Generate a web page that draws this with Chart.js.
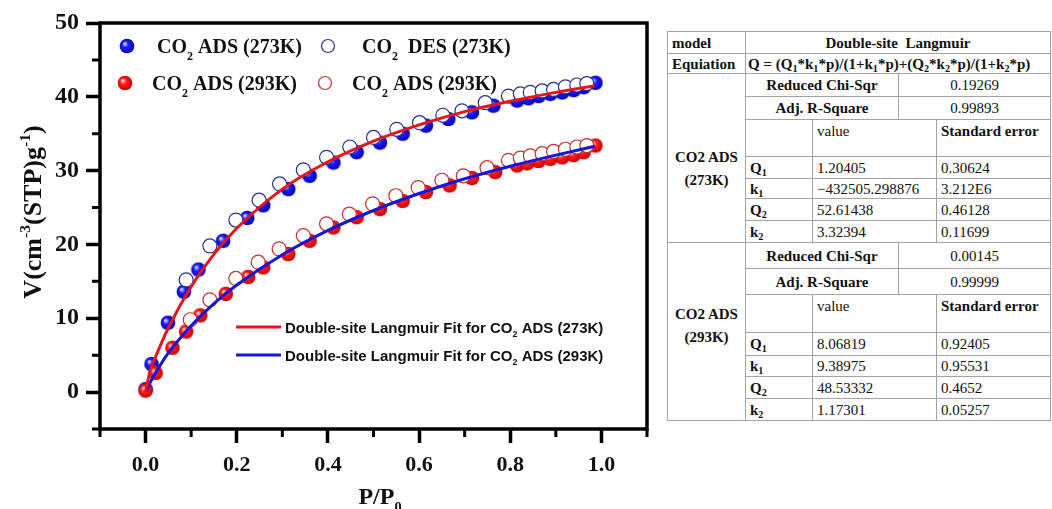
<!DOCTYPE html>
<html lang="en">
<head>
<meta charset="UTF-8" />
<title>CO2 isotherms with Double-site Langmuir fit</title>
<script src="https://cdn.jsdelivr.net/npm/chart.js"></script>
<style>
  html, body { margin: 0; padding: 0; background: #fff; }
  body { width: 1052px; height: 509px; position: relative; overflow: hidden; }
  .plot { position: absolute; left: 0; top: 0; width: 660px; height: 509px; }

  table.fit {
    position: absolute; left: 667px; top: 31px; width: 383px;
    border-collapse: collapse; table-layout: fixed;
    font-family: "Liberation Serif", "Times New Roman", serif; font-size: 15px; color: #111;
  }
  .fit td {
    border: 1px solid #a3a3a3; padding: 0 0 0 4px; line-height: 16px;
    vertical-align: middle; white-space: nowrap; overflow: hidden;
  }
  .fit .c { text-align: center; padding-left: 0; }
  .fit .b { font-weight: bold; }
  .fit .t { vertical-align: top; padding-top: 3px; }
  .fit .eq { padding-left: 2px; }
  .fit .grp { vertical-align: top; text-align: center; padding-left: 0; line-height: 23px; font-weight: bold; }
  .fit sub { font-size: 68%; line-height: 0; vertical-align: -0.3em; }
</style>
</head>
<body>

<div class="plot"><canvas id="iso"></canvas></div>

<table class="fit">
  <colgroup>
    <col style="width:78px"><col style="width:67px"><col style="width:86px"><col style="width:38px"><col style="width:114px">
  </colgroup>
  <tr style="height:22px"><td class="b">model</td><td colspan="4" class="b c">Double-site&nbsp; Langmuir</td></tr>
  <tr style="height:20px"><td class="b">Equiation</td><td colspan="4" class="b eq">Q = (Q<sub>1</sub>*k<sub>1</sub>*p)/(1+k<sub>1</sub>*p)+(Q<sub>2</sub>*k<sub>2</sub>*p)/(1+k<sub>2</sub>*p)</td></tr>

  <tr style="height:23px"><td rowspan="7" class="grp" style="padding-top:72px">CO2 ADS<br>(273K)</td><td colspan="2" class="b c">Reduced Chi-Sqr</td><td colspan="2" class="c">0.19269</td></tr>
  <tr style="height:23px"><td colspan="2" class="b c">Adj. R-Square</td><td colspan="2" class="c">0.99893</td></tr>
  <tr style="height:37px"><td></td><td colspan="2" class="t">value</td><td class="b t">Standard error</td></tr>
  <tr style="height:22px"><td class="b">Q<sub>1</sub></td><td colspan="2">1.20405</td><td>0.30624</td></tr>
  <tr style="height:20px"><td class="b">k<sub>1</sub></td><td colspan="2">&minus;432505.298876</td><td>3.212E6</td></tr>
  <tr style="height:22px"><td class="b">Q<sub>2</sub></td><td colspan="2">52.61438</td><td>0.46128</td></tr>
  <tr style="height:22px"><td class="b">k<sub>2</sub></td><td colspan="2">3.32394</td><td>0.11699</td></tr>

  <tr style="height:26px"><td rowspan="7" class="grp" style="padding-top:60px">CO2 ADS<br>(293K)</td><td colspan="2" class="b c">Reduced Chi-Sqr</td><td colspan="2" class="c">0.00145</td></tr>
  <tr style="height:26px"><td colspan="2" class="b c">Adj. R-Square</td><td colspan="2" class="c">0.99999</td></tr>
  <tr style="height:38px"><td></td><td colspan="2" class="t">value</td><td class="b t">Standard error</td></tr>
  <tr style="height:23px"><td class="b">Q<sub>1</sub></td><td colspan="2">8.06819</td><td>0.92405</td></tr>
  <tr style="height:21px"><td class="b">k<sub>1</sub></td><td colspan="2">9.38975</td><td>0.95531</td></tr>
  <tr style="height:22px"><td class="b">Q<sub>2</sub></td><td colspan="2">48.53332</td><td>0.4652</td></tr>
  <tr style="height:22px"><td class="b">k<sub>2</sub></td><td colspan="2">1.17301</td><td>0.05257</td></tr>
</table>

<script>
  // CO2 uptake, V in cm3(STP)/g against relative pressure P/P0
  const ads273P = [0.000, 0.013, 0.049, 0.084, 0.116, 0.170, 0.223, 0.258, 0.313, 0.360, 0.412, 0.463, 0.514,
                   0.564, 0.615, 0.664, 0.716, 0.763, 0.815, 0.840, 0.862, 0.888, 0.914, 0.939, 0.961, 0.987];
  const ads273V = [0.4, 3.8, 9.4, 13.6, 16.6, 20.5, 23.6, 25.3, 27.5, 29.3, 31.1, 32.5, 33.8,
                   35.0, 36.1, 37.0, 37.9, 38.8, 39.5, 39.8, 40.1, 40.4, 40.6, 40.9, 41.3, 41.9];

  const des273P = [0.089, 0.141, 0.198, 0.249, 0.294, 0.346, 0.397, 0.448, 0.500, 0.551, 0.601,
                   0.652, 0.694, 0.745, 0.796, 0.822, 0.844, 0.870, 0.895, 0.921, 0.946, 0.968];
  const des273V = [15.2, 19.8, 23.3, 26.0, 28.2, 30.1, 31.8, 33.2, 34.5, 35.6, 36.5,
                   37.5, 38.1, 39.2, 40.1, 40.4, 40.6, 40.8, 41.0, 41.35, 41.6, 41.8];

  const ads293P = [0.000, 0.022, 0.059, 0.089, 0.120, 0.176, 0.225, 0.258, 0.313, 0.360, 0.412, 0.463, 0.514,
                   0.564, 0.615, 0.667, 0.716, 0.767, 0.815, 0.837, 0.862, 0.888, 0.914, 0.939, 0.961, 0.987];
  const ads293V = [0.2, 2.6, 6.0, 8.2, 10.4, 13.3, 15.6, 16.9, 18.7, 20.5, 22.3, 23.7, 24.8,
                   25.9, 27.1, 28.0, 29.0, 29.8, 30.7, 31.0, 31.3, 31.6, 31.8, 32.1, 32.5, 33.4];

  const open293P = [0.098, 0.141, 0.198, 0.247, 0.293, 0.346, 0.397, 0.447, 0.498, 0.549, 0.598,
                    0.650, 0.697, 0.749, 0.796, 0.822, 0.844, 0.870, 0.895, 0.921, 0.946, 0.968];
  const open293V = [9.8, 12.5, 15.4, 17.6, 19.4, 21.2, 22.8, 24.1, 25.5, 26.6, 27.7,
                    28.7, 29.3, 30.4, 31.4, 31.7, 32.0, 32.3, 32.6, 32.9, 33.2, 33.4];

  // fitted Double-site Langmuir curves
  const fitP     = [0, 0.01, 0.02, 0.05, 0.1, 0.15, 0.2, 0.3, 0.4, 0.5, 0.6, 0.7, 0.8, 0.9, 0.985];
  const fit273V  = [0, 2.9, 4.5, 8.7, 14.3, 18.7, 22.2, 27.5, 31.2, 34.0, 36.2, 38.0, 39.4, 40.6, 41.5];
  const fit293V  = [0, 1.3, 2.4, 5.3, 9.0, 12.0, 14.5, 18.6, 21.9, 24.6, 26.9, 28.9, 30.6, 32.1, 33.3];

  // axis ticks
  const xTickValues = [0, 0.2, 0.4, 0.6, 0.8, 1.0];
  const xTickLabels = ['0.0', '0.2', '0.4', '0.6', '0.8', '1.0'];
  const xMinorTicks = [-0.1, 0.1, 0.3, 0.5, 0.7, 0.9, 1.1];
  const yTickValues = [0, 10, 20, 30, 40, 50];
  const yTickLabels = ['0', '10', '20', '30', '40', '50'];
  const yMinorTicks = [-5, 5, 15, 25, 35, 45];

  const pairs = (xs, ys) => xs.map((v, i) => ({ x: v, y: ys[i] }));

  // shaded sphere used as a marker
  function ball(light, mid, dark) {
    const c = document.createElement('canvas');
    c.width = c.height = 16;
    const g = c.getContext('2d');
    const grad = g.createRadialGradient(5.5, 5.5, 0.5, 8, 8, 8);
    grad.addColorStop(0, light);
    grad.addColorStop(0.35, mid);
    grad.addColorStop(1, dark);
    g.fillStyle = grad;
    g.beginPath();
    g.arc(8, 8, 7.3, 0, Math.PI * 2);
    g.fill();
    return c;
  }
  const blueBall = ball('#d6d6ff', '#1c1cff', '#0000b0');
  const redBall = ball('#ffd6d6', '#ff1c1c', '#c00000');

  // "_2" / "_{..}" gives a subscript, "^{..}" a superscript
  function parts(str) {
    const out = [];
    const re = /_\{([^}]*)\}|_(.)|\^\{([^}]*)\}/g;
    let last = 0, m;
    while ((m = re.exec(str))) {
      if (m.index > last) out.push({ t: str.slice(last, m.index) });
      if (m[1] !== undefined) out.push({ t: m[1], sub: true });
      else if (m[2] !== undefined) out.push({ t: m[2], sub: true });
      else out.push({ t: m[3], sup: true });
      last = re.lastIndex;
    }
    if (last < str.length) out.push({ t: str.slice(last) });
    return out;
  }

  function drawRich(ctx, str, x, y, size, font, align) {
    const ps = parts(str);
    const fontFor = p => font.replace('%s', (p.sub || p.sup ? size * 0.6 : size) + 'px');
    let w = 0;
    ps.forEach(p => { ctx.font = fontFor(p); w += ctx.measureText(p.t).width; });
    let cx = align === 'center' ? x - w / 2 : x;
    ctx.textAlign = 'left';
    ctx.textBaseline = 'alphabetic';
    ps.forEach(p => {
      ctx.font = fontFor(p);
      const dy = p.sub ? size * 0.33 : p.sup ? -size * 0.42 : 0;
      ctx.fillText(p.t, cx, y + dy);
      cx += ctx.measureText(p.t).width;
    });
  }

  const SERIF = 'bold %s "Liberation Serif", "Times New Roman", serif';
  const SANS = 'bold %s "Liberation Sans", Arial, sans-serif';

  const decor = {
    id: 'decor',
    afterDraw(chart) {
      const { ctx, chartArea: a, scales: { x, y } } = chart;
      const sets = chart.data.datasets;
      ctx.save();

      // closed frame
      ctx.strokeStyle = '#000';
      ctx.lineWidth = 3.5;
      ctx.strokeRect(a.left, a.top, a.right - a.left, a.bottom - a.top);

      // short minor ticks
      ctx.lineWidth = 3;
      ctx.beginPath();
      xMinorTicks.forEach(v => {
        const px = x.getPixelForValue(v);
        ctx.moveTo(px, a.bottom);
        ctx.lineTo(px, a.bottom + 8);
      });
      yMinorTicks.forEach(v => {
        const py = y.getPixelForValue(v);
        ctx.moveTo(a.left, py);
        ctx.lineTo(a.left - 8, py);
      });
      ctx.stroke();

      ctx.fillStyle = '#111';

      // marker legend
      const symbolLegend = [
        { ds: 5, mx: 127, tx: 157, cy: 46 }, { ds: 2, mx: 328, tx: 362, cy: 46 },
        { ds: 4, mx: 125, tx: 152, cy: 83 }, { ds: 3, mx: 325, tx: 352, cy: 83 }
      ];
      symbolLegend.forEach(e => {
        const d = sets[e.ds];
        if (d.pointStyle instanceof HTMLCanvasElement) {
          ctx.drawImage(d.pointStyle, e.mx - 8, e.cy - 8);
        } else {
          ctx.beginPath();
          ctx.arc(e.mx, e.cy, 6.5, 0, Math.PI * 2);
          ctx.fillStyle = '#fff';
          ctx.fill();
          ctx.lineWidth = 1.2;
          ctx.strokeStyle = d.borderColor;
          ctx.stroke();
        }
        ctx.fillStyle = '#111';
        drawRich(ctx, d.label, e.tx, e.cy + 7, 20, SERIF);
      });

      // fit legend
      const lineLegend = [{ ds: 0, cy: 327 }, { ds: 1, cy: 355 }];
      lineLegend.forEach(e => {
        const d = sets[e.ds];
        ctx.strokeStyle = d.borderColor;
        ctx.lineWidth = 3;
        ctx.beginPath();
        ctx.moveTo(236, e.cy);
        ctx.lineTo(281, e.cy);
        ctx.stroke();
        ctx.fillStyle = '#111';
        drawRich(ctx, d.label, 285, e.cy + 5.5, 15, SANS);
      });

      // axis titles
      drawRich(ctx, 'P/P_0', 380, 504, 24, SERIF, 'center');
      ctx.translate(41, 212);
      ctx.rotate(-Math.PI / 2);
      drawRich(ctx, 'V(cm^{-3}(STP)g^{-1})', 0, 0, 26, SERIF, 'center');

      ctx.restore();
    }
  };

  const tickFont = { family: '"Liberation Serif", "Times New Roman", serif', weight: 'bold' };

  new Chart(document.getElementById('iso'), {
    type: 'scatter',
    data: {
      datasets: [
        {
          label: 'Double-site Langmuir Fit for CO_2 ADS (273K)',
          data: pairs(fitP, fit273V),
          showLine: true, pointRadius: 0, borderColor: '#e8141a', borderWidth: 3,
          cubicInterpolationMode: 'monotone', order: 0
        },
        {
          label: 'Double-site Langmuir Fit for CO_2 ADS (293K)',
          data: pairs(fitP, fit293V),
          showLine: true, pointRadius: 0, borderColor: '#1616d6', borderWidth: 3,
          cubicInterpolationMode: 'monotone', order: 0
        },
        {
          label: 'CO_2  DES (273K)',
          data: pairs(des273P, des273V),
          pointStyle: 'circle', pointRadius: 7, borderColor: '#27308f',
          backgroundColor: '#fff', pointBorderWidth: 1.2, order: 1
        },
        {
          label: 'CO_2 ADS (293K)',
          data: pairs(open293P, open293V),
          pointStyle: 'circle', pointRadius: 7, borderColor: '#c23030',
          backgroundColor: '#fff', pointBorderWidth: 1.2, order: 1
        },
        {
          label: 'CO_2 ADS (293K)',
          data: pairs(ads293P, ads293V),
          pointStyle: redBall, borderColor: '#ff1c1c', order: 2
        },
        {
          label: 'CO_2 ADS (273K)',
          data: pairs(ads273P, ads273V),
          pointStyle: blueBall, borderColor: '#1c1cff', order: 2
        }
      ]
    },
    options: {
      responsive: true,
      maintainAspectRatio: false,
      animation: false,
      layout: { padding: { left: 0, top: 23, right: 13, bottom: 0 } },
      plugins: { legend: { display: false }, tooltip: { enabled: false } },
      scales: {
        x: {
          type: 'linear', min: -0.1, max: 1.1,
          afterBuildTicks: s => { s.ticks = xTickValues.map(v => ({ value: v })); },
          afterFit: s => { s.height = 80; },
          border: { display: false },
          grid: { drawOnChartArea: false, drawTicks: true, tickLength: 14, tickWidth: 3.5, tickColor: '#000' },
          ticks: { callback: (v, i) => xTickLabels[i], color: '#111', padding: 9, maxRotation: 0,
                   font: Object.assign({ size: 22 }, tickFont) }
        },
        y: {
          type: 'linear', min: -5, max: 50,
          afterBuildTicks: s => { s.ticks = yTickValues.map(v => ({ value: v })); },
          afterFit: s => { s.width = 100; },
          border: { display: false },
          grid: { drawOnChartArea: false, drawTicks: true, tickLength: 14, tickWidth: 3.5, tickColor: '#000' },
          ticks: { callback: (v, i) => yTickLabels[i], color: '#111', padding: 7,
                   font: Object.assign({ size: 24 }, tickFont) }
        }
      }
    },
    plugins: [decor]
  });
</script>
</body>
</html>
